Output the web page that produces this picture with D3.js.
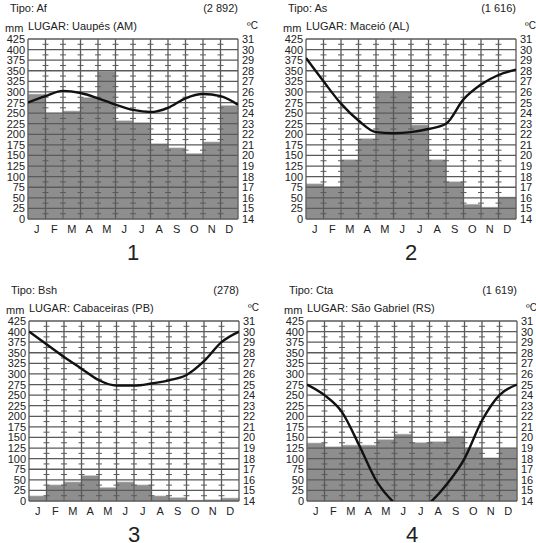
<!DOCTYPE html><html><head><meta charset="utf-8">
<script src="https://cdn.jsdelivr.net/npm/d3@7"></script>
<style>body{margin:0;background:#fff}text{font-family:"Liberation Sans",Arial,sans-serif;fill:#222}</style></head><body>
<svg id="c" width="536" height="543"></svg>
<script>
const months=["J","F","M","A","M","J","J","A","S","O","N","D"];
const mmTicks=d3.range(0,426,25);
const cTicks=d3.range(14,32,1);
const tipos=["Tipo: Af","Tipo: As","Tipo: Bsh","Tipo: Cta"];
const totals=["(2 892)","(1 616)","(278)","(1 619)"];
const lugares=["LUGAR: Uaupés (AM)","LUGAR: Maceió (AL)","LUGAR: Cabaceiras (PB)","LUGAR: São Gabriel (RS)"];
const numbers=["1","2","3","4"];
const rain1=[295,250,255,287,348,232,228,178,168,155,182,268];
const rain2=[83,75,140,190,300,300,222,140,88,35,28,52];
const rain3=[12,38,45,60,32,45,38,12,8,2,3,7];
const rain4=[137,128,132,132,145,158,138,140,153,125,102,125];
// temperature (°C) at month boundaries
const temp1=[25.0,25.6,26.1,25.9,25.4,24.8,24.3,24.1,24.5,25.4,25.8,25.6,24.8];
const temp2=[29.2,27.0,24.9,23.3,22.2,22.1,22.2,22.5,23.0,25.3,26.7,27.6,28.1];
const temp3=[30.0,28.8,27.6,26.5,25.4,24.9,24.9,25.1,25.4,25.9,27.2,29.0,30.0];
const temp4=[25.0,24.0,22.4,19.2,15.8,13.8,12.6,13.8,15.6,18.0,21.6,24.0,25.0];
const rains=[rain1,rain2,rain3,rain4], temps=[temp1,temp2,temp3,temp4];
const offs=[[0,0],[278,0],[1,282],[279,282]];
const W=210,H=180;
const svg=d3.select("#c");
const x=d3.scaleLinear().domain([0,12]).range([0,W]);
const y=d3.scaleLinear().domain([0,425]).range([H,0]);
const yt=d3.scaleLinear().domain([14,31]).range([H,0]);
offs.forEach((o,i)=>{
  const g=svg.append("g").attr("transform",`translate(${28+o[0]},${39+o[1]})`);
  const cid="clip"+i;
  g.append("clipPath").attr("id",cid).append("rect").attr("width",W).attr("height",H);
  g.append("rect").attr("width",W).attr("height",H).attr("fill","#fff");
  g.selectAll(".bar").data(rains[i]).join("rect")
    .attr("x",(d,j)=>x(j)).attr("width",x(1)).attr("y",d=>y(d)).attr("height",d=>H-y(d))
    .attr("fill","#8e8e8e").attr("stroke","#c8c8c8").attr("stroke-width",0.6);
  g.selectAll(".hl").data(mmTicks).join("line").attr("x1",0).attr("x2",W)
    .attr("y1",d=>y(d)).attr("y2",d=>y(d)).attr("stroke","#5a5a5a").attr("stroke-width",1.3);
  g.selectAll(".vl").data(d3.range(13)).join("line").attr("y1",0).attr("y2",H)
    .attr("x1",d=>x(d)).attr("x2",d=>x(d)).attr("stroke","#5a5a5a").attr("stroke-width",1.3);
  const cross=[];
  d3.range(1,12).forEach(m=>d3.range(0,17).forEach(k=>cross.push([m,k*25+12.5])));
  g.selectAll(".cr").data(cross).join("line").attr("x1",d=>x(d[0])-3).attr("x2",d=>x(d[0])+3)
    .attr("y1",d=>y(d[1])).attr("y2",d=>y(d[1])).attr("stroke","#5a5a5a").attr("stroke-width",1);
  g.append("path").datum(temps[i]).attr("clip-path",`url(#${cid})`)
    .attr("d",d3.line().x((d,j)=>x(j)).y(d=>yt(d)).curve(d3.curveMonotoneX))
    .attr("fill","none").attr("stroke","#111").attr("stroke-width",2.4);
  g.selectAll(".lt").data(mmTicks).join("text").attr("x",-3).attr("y",d=>y(d)+4)
    .attr("text-anchor","end").attr("font-size",11).text(d=>d);
  g.selectAll(".rt").data(cTicks).join("text").attr("x",W+4).attr("y",d=>yt(d)+4)
    .attr("font-size",11).text(d=>d);
  g.selectAll(".mt").data(months).join("text").attr("x",(d,j)=>x(j+0.5)).attr("y",H+14)
    .attr("text-anchor","middle").attr("font-size",11).text(d=>d);
  g.append("text").attr("x",-18).attr("y",-27).attr("font-size",11).text(tipos[i]);
  g.append("text").attr("x",W).attr("y",-27).attr("text-anchor","end").attr("font-size",11).text(totals[i]);
  g.append("text").attr("x",-23).attr("y",-7).attr("font-size",11).text("mm");
  g.append("text").attr("x",0).attr("y",-9).attr("font-size",11).text(lugares[i]);
  g.append("text").attr("x",W+9).attr("y",-10).attr("font-size",10).text("ºC");
  g.append("text").attr("x",W/2).attr("y",H+41).attr("text-anchor","middle").attr("font-size",22).text(numbers[i]);
});
</script></body></html>
